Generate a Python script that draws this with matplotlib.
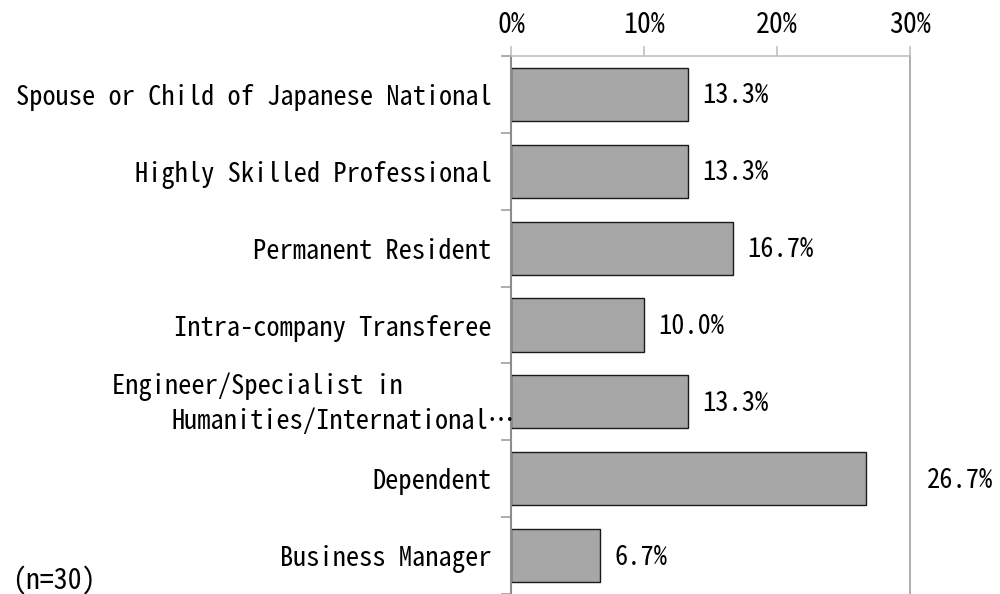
import matplotlib
matplotlib.use("Agg")
import matplotlib.pyplot as plt
import numpy as np

plt.rcParams['font.family'] = ['Noto Sans Mono CJK JP', 'Noto Sans CJK JP', 'DejaVu Sans Mono']

categories = ["Spouse or Child of Japanese National",
              "Highly Skilled Professional",
              "Permanent Resident",
              "Intra-company Transferee",
              "Engineer/Specialist in Humanities/International…",
              "Dependent",
              "Business Manager"]
values = [13.3, 13.3, 16.7, 10.0, 13.3, 26.7, 6.7]
xticks = [0, 10, 20, 30]
n_note = "(n=30)"

fig = plt.figure(figsize=(10, 5.94), dpi=100)
ax = fig.add_axes([0.511, 0.0, 0.399, 0.9057])

y = np.arange(len(categories))
ax.barh(y, values, height=0.69, color="#a6a6a6", edgecolor="#1a1a1a", linewidth=1.0)

ax.set_xlim(0, 30)
ax.set_ylim(len(categories) - 0.5, -0.5)

# x axis on top
ax.xaxis.tick_top()
ax.set_xticks(xticks)
ax.set_xticklabels(["%d%%" % t for t in xticks], fontsize=20)
ax.tick_params(axis="x", which="major", length=7, width=1.2, color="#c0c0c0", pad=5)

# category labels at the centres, ticks at the boundaries
ax.set_yticks(y)
labels = list(categories)
labels[4] = ""
ax.set_yticklabels(labels, fontsize=19)
ax.tick_params(axis="y", which="major", length=0, pad=14)
ax.set_yticks(np.arange(len(categories) + 1) - 0.5, minor=True)
ax.tick_params(axis="y", which="minor", length=7, width=1.2, color="#a0a0a0")

# the long label is wrapped over two lines
tr = ax.get_yaxis_transform()
ax.text(-1.0, 4 - 0.2, "Engineer/Specialist in", transform=tr,
        ha="left", va="center", fontsize=19, clip_on=False)
ax.text(-0.852, 4 + 0.25, "Humanities/International…", transform=tr,
        ha="left", va="center", fontsize=19, clip_on=False)

ax.spines["bottom"].set_visible(False)
ax.spines["top"].set_color("#c0c0c0")
ax.spines["top"].set_linewidth(1.2)
ax.spines["left"].set_color("#8c8c8c")
ax.spines["left"].set_linewidth(1.5)
ax.spines["right"].set_color("#a0a0a0")
ax.spines["right"].set_linewidth(1.2)

# value labels
for yi, v in zip(y, values):
    xl = v + 1.1
    if xl + 4 > 30:
        xl = 31.3
    ax.text(xl, yi + 0.02, "%.1f%%" % v, ha="left", va="center", fontsize=19, clip_on=False)

fig.text(0.012, 0.022, n_note, ha="left", va="center", fontsize=20)

fig.savefig("out.png", dpi=100)
